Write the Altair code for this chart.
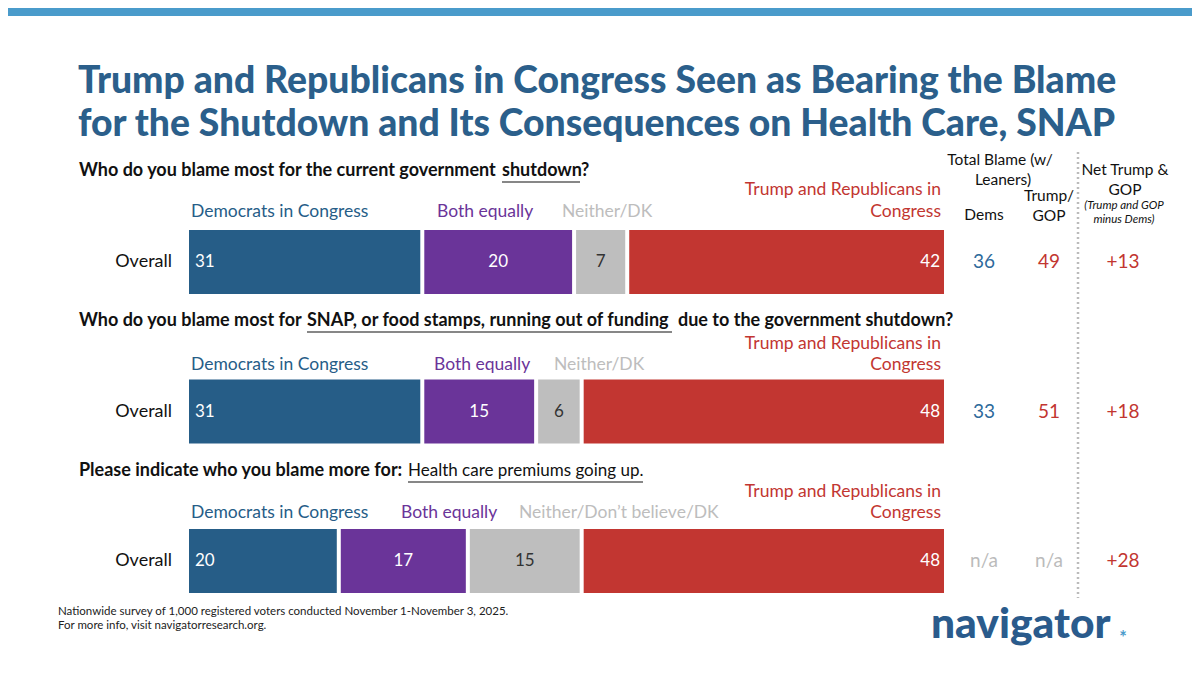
import altair as alt
import pandas as pd

OFF = 8  # page margin
FONT = "Lato"

# ---------------- data ----------------
rows = ["shutdown", "snap", "health"]
dem = [31, 31, 20]
both = [20, 15, 17]
neither = [7, 6, 15]
gop = [42, 48, 48]
total_dems = ["36", "33", "n/a"]
total_gop = ["49", "51", "n/a"]
net = ["+13", "+18", "+28"]
neither_names = ["Neither/DK", "Neither/DK", "Neither/Don\u2019t believe/DK"]
row_label = "Overall"

BLUE = "#265D87"
PURPLE = "#6A3499"
GRAY = "#BEBEBE"
RED = "#C23631"
TITLE = "#2B5F8B"
BAND = "#4A9BCB"

# ---------------- layout (page pixels) ----------------
title_lines = [("Trump and Republicans in Congress Seen as Bearing the Blame", 82),
               ("for the Shutdown and Its Consequences on Health Care, SNAP", 125)]
q_bold = [("Who do you blame most for the current government", 79, 171),
          ("shutdown", 502, 171),
          ("?", 581, 171),
          ("Who do you blame most for", 79, 321),
          ("SNAP, or food stamps, running out of funding", 307, 321),
          ("due to the government shutdown?", 678, 321),
          ("Please indicate who you blame more for:", 79, 471)]
q_regular = [("Health care premiums going up.", 408, 471)]
underlines = [(502, 580, 182), (307, 672, 332), (408, 643, 482)]
cat_y = [212, 365, 513]
trump_y1 = [190, 344, 492]
both_x = [437, 434, 401]
neither_x = [562, 554, 519]

x_scale = alt.Scale(domain=[0, 100], range=[189 - OFF - 2, 944 - OFF + 2])
y_scale = alt.Scale(domain=rows, range=[230 - OFF, 593 - OFF], paddingInner=0.572, paddingOuter=0)

# ---------------- bars ----------------
seg = []
for i, r in enumerate(rows):
    vals = [dem[i], both[i], neither[i], gop[i]]
    cols = [BLUE, PURPLE, GRAY, RED]
    s = 0
    for v, c in zip(vals, cols):
        seg.append({"row": r, "start": s, "end": s + v, "mid": s + v / 2, "v": v, "color": c,
                    "tcolor": "#333333" if c == GRAY else "white"})
        s += v
seg_df = pd.DataFrame(seg)

bars = alt.Chart(seg_df).mark_bar(xOffset=2, x2Offset=-2).encode(
    x=alt.X("start:Q", scale=x_scale, axis=None),
    x2="end:Q",
    y=alt.Y("row:N", scale=y_scale, axis=None),
    color=alt.Color("color:N", scale=None),
)

lab_left = alt.Chart(seg_df[seg_df.color == BLUE]).mark_text(
    align="left", baseline="middle", dx=8, font=FONT, fontSize=17).encode(
    x=alt.X("start:Q", scale=x_scale, axis=None),
    y=alt.Y("row:N", scale=y_scale, axis=None),
    text="v:Q", color=alt.Color("tcolor:N", scale=None))
lab_mid = alt.Chart(seg_df[seg_df.color.isin([PURPLE, GRAY])]).mark_text(
    align="center", baseline="middle", font=FONT, fontSize=17).encode(
    x=alt.X("mid:Q", scale=x_scale, axis=None),
    y=alt.Y("row:N", scale=y_scale, axis=None),
    text="v:Q", color=alt.Color("tcolor:N", scale=None))
lab_right = alt.Chart(seg_df[seg_df.color == RED]).mark_text(
    align="right", baseline="middle", dx=-6, font=FONT, fontSize=17).encode(
    x=alt.X("end:Q", scale=x_scale, axis=None),
    y=alt.Y("row:N", scale=y_scale, axis=None),
    text="v:Q", color=alt.Color("tcolor:N", scale=None))

overall = alt.Chart(pd.DataFrame({"row": rows, "t": [row_label] * 3})).mark_text(
    align="right", baseline="middle", font=FONT, fontSize=18, color="#111111").encode(
    x=alt.value(172 - OFF),
    y=alt.Y("row:N", scale=y_scale, axis=None),
    text="t:N")

# right-hand columns
col_rows = []
for i, r in enumerate(rows):
    col_rows.append({"row": r, "t": total_dems[i], "x": 984 - OFF,
                     "c": "#BBBBBB" if total_dems[i] == "n/a" else "#2E6A9B"})
    col_rows.append({"row": r, "t": total_gop[i], "x": 1049 - OFF,
                     "c": "#BBBBBB" if total_gop[i] == "n/a" else RED})
    col_rows.append({"row": r, "t": net[i], "x": 1123 - OFF, "c": RED})
cols_chart = alt.Chart(pd.DataFrame(col_rows)).mark_text(
    align="center", baseline="middle", font=FONT, fontSize=19).encode(
    x=alt.X("x:Q", scale=None),
    y=alt.Y("row:N", scale=y_scale, axis=None),
    text="t:N", color=alt.Color("c:N", scale=None))

# ---------------- annotations ----------------
def txt(items, **kw):
    df = pd.DataFrame(items, columns=["t", "x", "y", "c"])
    df["x"] = df["x"] - OFF
    df["y"] = df["y"] - OFF
    return alt.Chart(df).mark_text(baseline="middle", font=FONT, **kw).encode(
        x=alt.X("x:Q", scale=None), y=alt.Y("y:Q", scale=None),
        text="t:N", color=alt.Color("c:N", scale=None))

title = txt([(t, 78, y, TITLE) for t, y in title_lines], align="left", fontSize=37.3, fontWeight=900)
qb = txt([(t, x, y, "#111111") for t, x, y in q_bold], align="left", fontSize=18, fontWeight="bold")
qr = txt([(t, x, y, "#111111") for t, x, y in q_regular], align="left", fontSize=17)

ul_df = pd.DataFrame(underlines, columns=["x", "x2", "y"]) - OFF
ul = alt.Chart(ul_df).mark_rule(color="#111111", strokeWidth=1.2).encode(
    x=alt.X("x:Q", scale=None), x2="x2:Q", y=alt.Y("y:Q", scale=None))

cat_left = []
cat_right = []
for i in range(3):
    cat_left.append(("Democrats in Congress", 191, cat_y[i], BLUE))
    cat_left.append(("Both equally", both_x[i], cat_y[i], PURPLE))
    cat_left.append((neither_names[i], neither_x[i], cat_y[i], "#BDBDBD"))
    cat_right.append(("Trump and Republicans in", 941, trump_y1[i], RED))
    cat_right.append(("Congress", 941, cat_y[i], RED))
catl = txt(cat_left, align="left", fontSize=17.5)
catr = txt(cat_right, align="right", fontSize=17.5)

hdr = txt([("Total Blame (w/", 1000, 160, "#111111"),
           ("Leaners)", 1003, 180, "#111111"),
           ("Dems", 984, 215, "#111111"),
           ("Trump/", 1049, 196, "#111111"),
           ("GOP", 1049, 216, "#111111"),
           ("Net Trump &", 1125, 170, "#111111"),
           ("GOP", 1125, 190, "#111111")], align="center", fontSize=15.5)
hdr_it = txt([("(Trump and GOP", 1124, 206, "#111111"),
              ("minus Dems)", 1124, 220, "#111111")], align="center", fontSize=11.5, fontStyle="italic")

foot = txt([("Nationwide survey of 1,000 registered voters conducted November 1-November 3, 2025.", 58, 612, "#222222"),
            ("For more info, visit navigatorresearch.org.", 58, 626, "#222222")], align="left", fontSize=11.5)

logo = txt([("navigator", 931, 625, "#2A5B8C")], align="left", fontSize=42.5, fontWeight=900)
star = txt([("*", 1123, 639, BAND)], align="center", fontSize=18, fontWeight="bold")

band = alt.Chart(pd.DataFrame({"x": [0], "x2": [1184], "y": [0], "y2": [16 - OFF]})).mark_rect(color=BAND).encode(
    x=alt.X("x:Q", scale=None), x2="x2:Q", y=alt.Y("y:Q", scale=None), y2="y2:Q")

dots = alt.Chart(pd.DataFrame({"x": [1078 - OFF], "y": [152 - OFF], "y2": [598 - OFF]})).mark_rule(
    color="#BBBBBB", strokeWidth=2.5, strokeDash=[2, 3]).encode(
    x=alt.X("x:Q", scale=None), y=alt.Y("y:Q", scale=None), y2="y2:Q")

chart = alt.layer(
    band, title, qb, qr, ul, catl, catr, hdr, hdr_it, dots,
    bars, lab_left, lab_mid, lab_right, overall, cols_chart, foot, logo, star
).properties(
    width=1184, height=659, padding=0, autosize=alt.AutoSizeParams(type="none"),
    background="white"
).configure_view(stroke=None)

chart.save("out.html", embed_options={"renderer": "svg", "actions": False})
